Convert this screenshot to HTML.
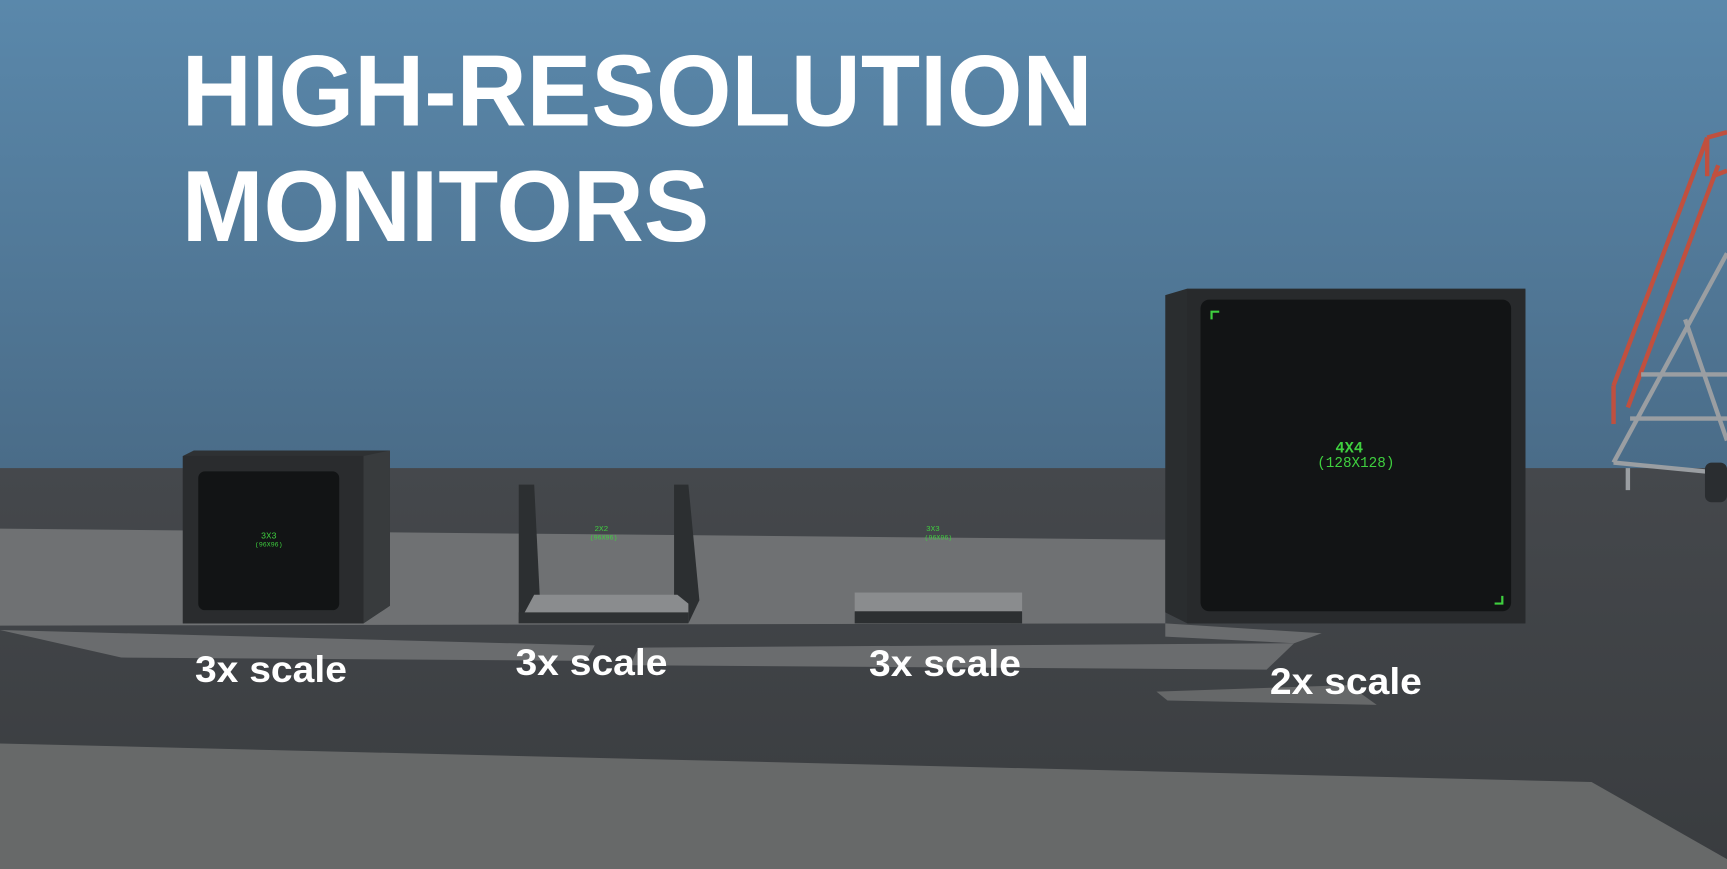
<!DOCTYPE html>
<html><head><meta charset="utf-8"><style>
html,body{margin:0;padding:0;width:1727px;height:869px;overflow:hidden;background:#45484c}
svg{display:block}
</style></head><body>
<svg width="1727" height="869" viewBox="0 0 1568 789" preserveAspectRatio="none" xmlns="http://www.w3.org/2000/svg">
<defs>
<linearGradient id="sky" x1="0" y1="0" x2="0" y2="1">
<stop offset="0" stop-color="#5a88ab"/><stop offset="1" stop-color="#4a6c88"/>
</linearGradient>
<linearGradient id="gnd" x1="0" y1="0" x2="0" y2="1">
<stop offset="0" stop-color="#45484c"/><stop offset="1" stop-color="#393c3f"/>
</linearGradient>
</defs>
<rect width="1568" height="426" fill="url(#sky)"/>
<rect y="425" width="1568" height="364" fill="url(#gnd)"/>
<polygon points="0,480 1058,490 1058,566 0,568" fill="#6f7173"/>
<polygon points="0,572 540,586 532,600 110,597" fill="#6a6c6e"/>
<polygon points="580,588 1175,584 1150,608 572,604" fill="#6a6c6e"/>
<polygon points="1050,628 1225,622 1250,640 1060,636" fill="#666869"/>
<polygon points="1058,566 1200,575 1175,584 1058,578" fill="#6a6c6e"/>
<polygon points="0,675 1445,710 1568,780 1568,789 0,789" fill="#676969"/>
<!-- stairs right -->
<g stroke="#c0503f" stroke-width="4" fill="none">
<line x1="1550" y1="125" x2="1465" y2="350"/>
<line x1="1560" y1="150" x2="1478" y2="370"/>
<line x1="1550" y1="125" x2="1568" y2="120"/>
<line x1="1555" y1="160" x2="1568" y2="155"/>
<line x1="1465" y1="350" x2="1465" y2="385"/>
<line x1="1550" y1="125" x2="1550" y2="160"/>
</g>
<g stroke="#9a9ea2" stroke-width="4" fill="none">
<line x1="1568" y1="230" x2="1465" y2="420"/>
<line x1="1530" y1="290" x2="1568" y2="400"/>
<line x1="1490" y1="340" x2="1568" y2="340"/>
<line x1="1480" y1="380" x2="1568" y2="380"/>
<line x1="1465" y1="420" x2="1568" y2="430"/>
<line x1="1478" y1="425" x2="1478" y2="445"/>
</g>
<rect x="1548" y="420" width="20" height="36" rx="6" fill="#2a2d30"/>
<!-- monitor 1 -->
<polygon points="166,414 176,409 354,409 354,550 330,566 166,566" fill="#2e3133"/>
<polygon points="330,414 354,409 354,550 330,566" fill="#383b3d"/>
<rect x="166" y="414" width="164" height="152" fill="#2a2c2e"/>
<rect x="180" y="428" width="128" height="126" rx="6" fill="#121415"/>
<text x="244" y="489" fill="#3fcf3f" font-family="Liberation Mono,monospace" font-size="8" text-anchor="middle">3X3</text>
<text x="244" y="496" fill="#3fcf3f" font-family="Liberation Mono,monospace" font-size="6" text-anchor="middle">(96X96)</text>
<!-- monitor 2 -->
<polygon points="471,440 485,440 490,540 485,560 471,566" fill="#2c2f31"/>
<polygon points="612,440 625,440 635,545 625,566 612,560" fill="#2c2f31"/>
<polygon points="485,540 615,540 625,548 625,566 471,566" fill="#8a8c8e"/>
<rect x="471" y="556" width="154" height="10" fill="#2e3133"/>
<text x="546" y="482" fill="#3fcf3f" font-family="Liberation Mono,monospace" font-size="7" text-anchor="middle">2X2</text>
<text x="548" y="490" fill="#3fcf3f" font-family="Liberation Mono,monospace" font-size="6" text-anchor="middle">(96X96)</text>
<!-- monitor 3 -->
<rect x="776" y="538" width="152" height="18" fill="#8a8c8e"/>
<rect x="776" y="555" width="152" height="11" fill="#2c2f31"/>
<text x="847" y="482" fill="#3fcf3f" font-family="Liberation Mono,monospace" font-size="7" text-anchor="middle">3X3</text>
<text x="852" y="490" fill="#3fcf3f" font-family="Liberation Mono,monospace" font-size="6" text-anchor="middle">(96X96)</text>
<!-- monitor 4 -->
<polygon points="1058,268 1078,262 1385,262 1385,566 1078,566 1058,556" fill="#2a2d2f"/>
<rect x="1078" y="263" width="307" height="303" fill="#282a2c"/>
<rect x="1090" y="272" width="282" height="283" rx="8" fill="#121415"/>
<path d="M1100 290 V283 H1107" stroke="#3fcf3f" stroke-width="2" fill="none"/>
<path d="M1364 541 V548 H1357" stroke="#3fcf3f" stroke-width="2" fill="none"/>
<text x="1225" y="411" fill="#3fcf3f" font-family="Liberation Mono,monospace" font-size="14" font-weight="bold" text-anchor="middle">4X4</text>
<text x="1231" y="424" fill="#3fcf3f" font-family="Liberation Mono,monospace" font-size="13" text-anchor="middle">(128X128)</text>
<!-- labels -->
<g fill="#fff" font-family="Liberation Sans,sans-serif" font-weight="bold" font-size="34" text-anchor="middle">
<text x="246" y="619" textLength="138" lengthAdjust="spacingAndGlyphs">3x scale</text>
<text x="537" y="613" textLength="138" lengthAdjust="spacingAndGlyphs">3x scale</text>
<text x="858" y="614" textLength="138" lengthAdjust="spacingAndGlyphs">3x scale</text>
<text x="1222" y="630" textLength="138" lengthAdjust="spacingAndGlyphs">2x scale</text>
</g>
<g fill="#fff" font-family="Liberation Sans,sans-serif" font-weight="bold" font-size="92">
<text x="165" y="114" textLength="827" lengthAdjust="spacingAndGlyphs">HIGH-RESOLUTION</text>
<text x="165" y="219" textLength="479" lengthAdjust="spacingAndGlyphs">MONITORS</text>
</g>
</svg>
</body></html>
